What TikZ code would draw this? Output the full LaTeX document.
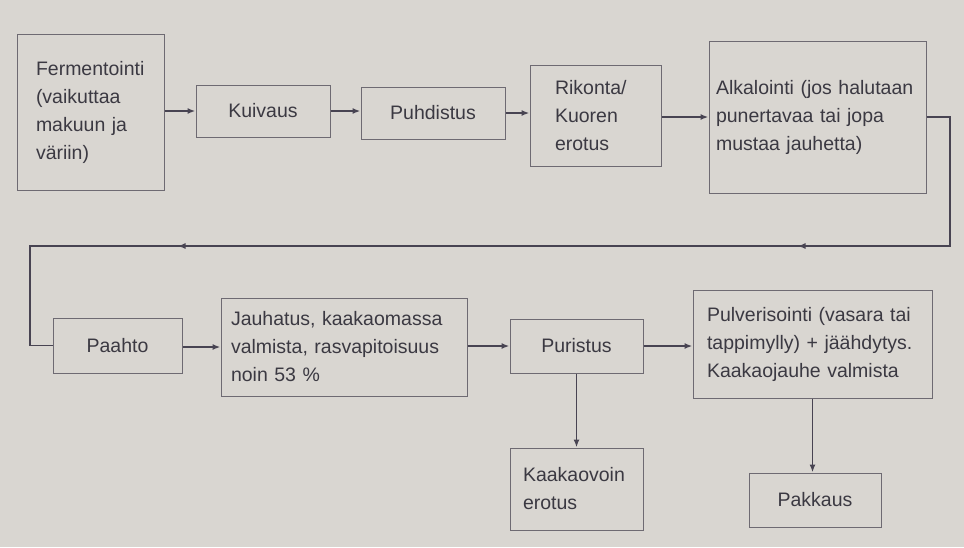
\documentclass[tikz,border=0pt]{standalone}
\usepackage{fontspec}
\setmainfont{Liberation Sans}
\usetikzlibrary{arrows.meta,decorations.markings}
\definecolor{paper}{HTML}{D9D6D1}
\definecolor{boxline}{HTML}{6E6A72}
\definecolor{flowline}{HTML}{484452}
\definecolor{ink}{HTML}{3B3942}
\hyphenpenalty=10000
\exhyphenpenalty=10000

\begin{document}
\begin{tikzpicture}[x=1pt, y=-1pt,
  box/.style={draw=boxline, line width=1pt, text=ink, align=left, inner ysep=4pt,
    font=\fontsize{19.5}{28}\selectfont},
  flow/.style={draw=flowline, line width=1.6pt, -{Latex[length=8pt,width=6pt]}}]

\fill[paper] (0,0) rectangle (964,547);

% ylarivi
\node[box, text width=109pt, inner xsep=19pt, minimum height=156pt] (ferm) at (90.5,112) {Fermentointi\\(vaikuttaa\\makuun ja\\väriin)};
\node[box, align=center, minimum width=134pt, minimum height=52pt] (kuiv) at (263,111) {Kuivaus};
\node[box, align=center, minimum width=144pt, minimum height=52pt] (puhd) at (433,113) {Puhdistus};
\node[box, text width=81pt, inner xsep=25pt, minimum height=101pt] (rik) at (595.5,115.5) {Rikonta/\\Kuoren\\erotus};
\node[box, text width=203pt, inner xsep=7pt, minimum height=152pt] (alk) at (817.5,117) {Alkalointi (jos halutaan\\punertavaa tai jopa\\mustaa jauhetta)\\[26pt]};

% alarivi
\node[box, align=center, minimum width=129pt, minimum height=55pt] (paah) at (117.5,345.5) {Paahto};
\node[box, text width=226pt, inner xsep=10pt, minimum height=98pt] (jauh) at (344,347) {Jauhatus, kaakaomassa\\valmista, rasvapitoisuus\\noin 53 \%};
\node[box, text width=211pt, inner xsep=14pt, minimum height=108pt] (pulv) at (812.5,344) {Pulverisointi (vasara tai\\tappimylly) + jäähdytys.\\Kaakaojauhe valmista};
\node[box, align=center, minimum width=133pt, minimum height=54pt] (puri) at (576.5,346) {Puristus};
\node[box, text width=107pt, inner xsep=13pt, minimum height=82pt] (voin) at (576.5,489) {Kaakaovoin\\erotus};
\node[box, align=center, minimum width=132pt, minimum height=54pt] (pakk) at (815,500) {Pakkaus};

% yhteydet
\draw[flow] (ferm.east |- kuiv.west) -- (kuiv.west);
\draw[flow] (kuiv.east) -- (kuiv.east -| puhd.west);
\draw[flow] (puhd.east) -- (puhd.east -| rik.west);
\draw[flow] (rik.east |- alk.west) -- (alk.west);

\coordinate (rgt) at (950,246);
\coordinate (lft) at (30,246);
\draw[draw=flowline, line width=1.6pt, postaction={decorate}, decoration={markings,
    mark=at position 305pt with {\arrow{Latex[length=8pt,width=6pt]}},
    mark=at position 925pt with {\arrow{Latex[length=8pt,width=6pt]}}}]
  (alk.east) -| (rgt) -- (lft) |- (paah.west);

\draw[flow] (paah.east |- jauh.west) -- (jauh.west);
\draw[flow] (jauh.east |- puri.west) -- (puri.west);
\draw[flow] (puri.east) -- (puri.east -| pulv.west);
\draw[flow] (puri.south) -- (puri.south |- voin.north);
\draw[flow] (pulv.south) -- (pulv.south |- pakk.north);

\end{tikzpicture}
\end{document}
